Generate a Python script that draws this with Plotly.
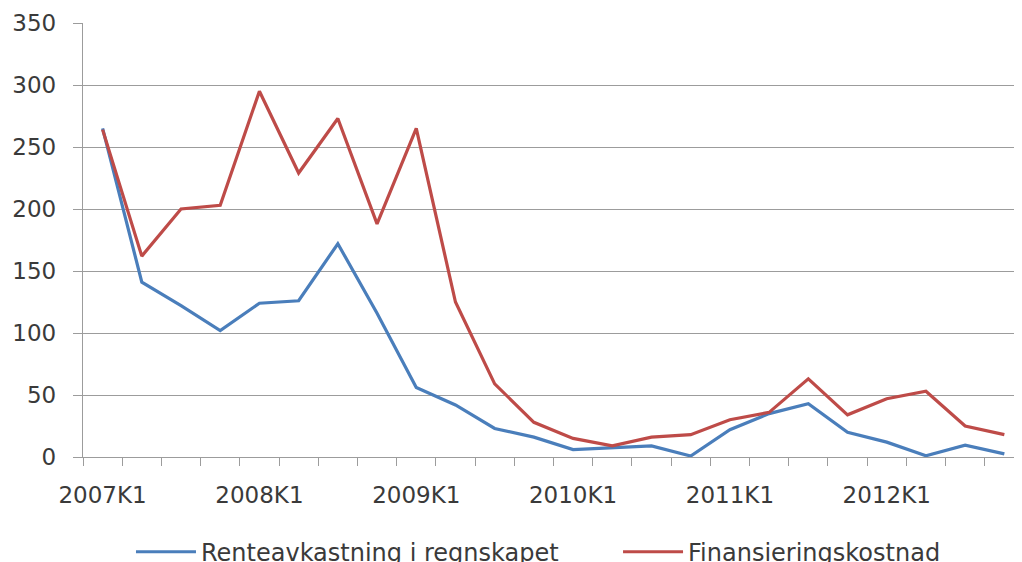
import plotly.graph_objects as go

quarters = [f"{y}K{q}" for y in range(2007, 2013) for q in range(1, 5)]
tick_labels = ["2007K1", "2008K1", "2009K1", "2010K1", "2011K1", "2012K1"]

renteavkastning = [265, 141, 122, 102, 124, 126, 172, 116, 56, 42, 23, 16,
                   6, 7.5, 9, 0.8, 22, 35, 43, 20, 12, 1, 9.5, 2.5]
finansiering = [264, 162, 200, 203, 295, 229, 273, 188, 265, 125, 59, 28,
                15, 9, 16, 18, 30, 36, 63, 34, 47, 53, 25, 18]

xs = list(range(len(quarters)))
tick_pos = [quarters.index(t) for t in tick_labels]

FONT = "DejaVu Sans"
TXT = "#3a3a3a"
GRID = "#9c9c9c"

fig = go.Figure()
fig.add_trace(go.Scatter(x=xs, y=renteavkastning, mode="lines",
                         name="Renteavkastning i regnskapet",
                         line=dict(color="#4A7EBB", width=3.2),
                         text=quarters, legend="legend"))
fig.add_trace(go.Scatter(x=xs, y=finansiering, mode="lines",
                         name="Finansieringskostnad",
                         line=dict(color="#BE4B48", width=3.2),
                         text=quarters, legend="legend2"))

leg_common = dict(orientation="h", xanchor="left", y=-0.2192, yanchor="middle",
                  font=dict(size=24, color=TXT, family=FONT),
                  bgcolor="rgba(0,0,0,0)", itemwidth=60)

fig.update_layout(
    width=1014, height=554,
    paper_bgcolor="white", plot_bgcolor="white",
    margin=dict(l=75, r=0, t=15, b=105, autoexpand=False),
    font=dict(family=FONT, size=23, color=TXT),
    showlegend=True,
    legend=dict(x=0.0511, **leg_common),
    legend2=dict(x=0.5698, **leg_common),
)
fig.update_xaxes(
    range=[-0.5, 23.45], tickmode="array", tickvals=tick_pos, ticktext=tick_labels,
    showgrid=False, zeroline=False, showline=True, linecolor=GRID, linewidth=1.3,
    ticks="outside", ticklen=0, tickcolor=GRID, ticklabelstandoff=17,
    minor=dict(tickmode="linear", tick0=-0.5, dtick=1, ticks="outside",
               ticklen=8, tickcolor=GRID, tickwidth=1.3, showgrid=False),
    tickfont=dict(size=23, color=TXT, family=FONT),
)
fig.update_yaxes(
    range=[0, 350], tickmode="linear", tick0=0, dtick=50,
    showgrid=True, gridcolor=GRID, gridwidth=1.3, zeroline=False,
    showline=True, linecolor=GRID, linewidth=1.3,
    ticks="outside", ticklen=9, tickcolor=GRID, tickwidth=1.3,
    ticklabelstandoff=12,
    tickfont=dict(size=23, color=TXT, family=FONT),
)

fig.write_html("out.html")
